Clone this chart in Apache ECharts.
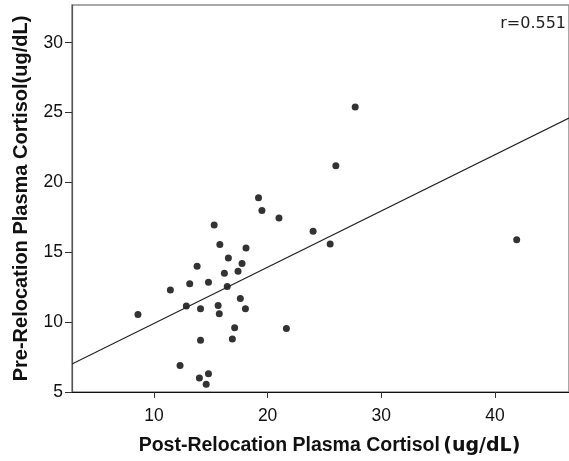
<!DOCTYPE html>
<html>
<head>
<meta charset="utf-8">
<script src="https://cdn.jsdelivr.net/npm/echarts@6/dist/echarts.min.js"></script>
<style>
  html, body { margin: 0; padding: 0; background: #fff; }
  #chart { width: 569px; height: 461px; }
</style>
</head>
<body>
<div id="chart"></div>
<script>
// Post- vs pre-relocation plasma cortisol per animal (ug/dL)
const postCortisol = [
  27.7, 26.0, 19.2, 19.5, 21.0, 24.0, 15.3, 25.5, 15.8, 18.1,
  16.55, 13.8, 17.75, 16.2, 17.4, 11.45, 13.15, 14.8, 16.45, 12.85,
  14.1, 15.65, 15.75, 17.6, 18.05, 8.6, 17.1, 16.9, 21.65, 14.1,
  12.3, 14.8, 14.0, 14.6, 41.9
];
const preCortisol = [
  25.4, 21.2, 18.9, 18.0, 17.45, 16.5, 16.95, 15.6, 15.55, 15.3,
  14.6, 14.0, 14.2, 13.5, 13.65, 12.3, 12.75, 12.85, 12.55, 11.15,
  10.95, 11.2, 10.6, 11.7, 10.95, 10.55, 9.6, 8.8, 9.55, 8.7,
  6.9, 6.3, 6.0, 5.55, 15.9
];
const xTicks = [10, 20, 30, 40];
const yTicks = [5, 10, 15, 20, 25, 30];
const correlationLabel = 'r=0.551';
// fitted regression line: pre = intercept + slope * post
const fitIntercept = 5.87;
const fitSlope = 0.403;

const xMin = 2.8, xMax = 46.5, yMin = 5, yMax = 32.7;
const points = postCortisol.map((x, i) => [x, preCortisol[i]]);
const fitLine = [xMin, xMax].map(x => [x, fitIntercept + fitSlope * x]);

const chart = echarts.init(document.getElementById('chart'), null, { renderer: 'canvas' });
chart.setOption({
  animation: false,
  backgroundColor: '#fff',
  grid: {
    left: 72, top: 5, right: -2, bottom: 67,
    show: true, borderColor: '#8c8c8c', borderWidth: 1.5, backgroundColor: 'transparent'
  },
  xAxis: {
    type: 'value', min: xMin, max: xMax,
    splitLine: { show: false },
    axisLine: { show: true, onZero: false, lineStyle: { color: '#111', width: 1.2 } },
    axisTick: { show: true, length: 6, customValues: xTicks, lineStyle: { color: '#333' } },
    axisLabel: {
      customValues: xTicks, margin: 15, color: '#111',
      fontFamily: 'Liberation Sans', fontSize: 17.5
    },
    name: '{b|Post-Relocation Plasma Cortisol} {u|(ug/dL)}',
    nameLocation: 'middle', nameGap: 44,
    nameTextStyle: {
      padding: [0, 0, 0, 18],
      rich: {
        b: { fontFamily: 'Liberation Sans', fontWeight: 'bold', fontSize: 19.5, color: '#111' },
        u: { fontFamily: 'DejaVu Sans', fontWeight: 'bold', fontSize: 19, color: '#111' }
      }
    }
  },
  yAxis: {
    type: 'value', min: yMin, max: yMax,
    splitLine: { show: false },
    axisLine: { show: true, onZero: false, lineStyle: { color: '#555', width: 1.2 } },
    axisTick: { show: true, length: 7, customValues: yTicks, lineStyle: { color: '#333' } },
    axisLabel: {
      customValues: yTicks, margin: 9, color: '#111',
      fontFamily: 'Liberation Sans', fontSize: 17.5
    },
    name: 'Pre-Relocation Plasma Cortisol(ug/dL)',
    nameLocation: 'middle', nameGap: 41,
    nameTextStyle: {
      fontFamily: 'Liberation Sans', fontWeight: 'bold', fontSize: 20, color: '#111'
    }
  },
  series: [
    {
      type: 'line', data: fitLine, symbol: 'none', silent: true,
      lineStyle: { color: '#222', width: 1.1 }
    },
    {
      type: 'scatter', data: points, symbol: 'circle', symbolSize: 7,
      itemStyle: { color: '#000' }
    }
  ],
  graphic: [{
    type: 'text', right: 3, top: 16,
    style: {
      text: correlationLabel, fill: '#222',
      font: '16px "DejaVu Sans"', textAlign: 'right'
    }
  }]
});
</script>
</body>
</html>
